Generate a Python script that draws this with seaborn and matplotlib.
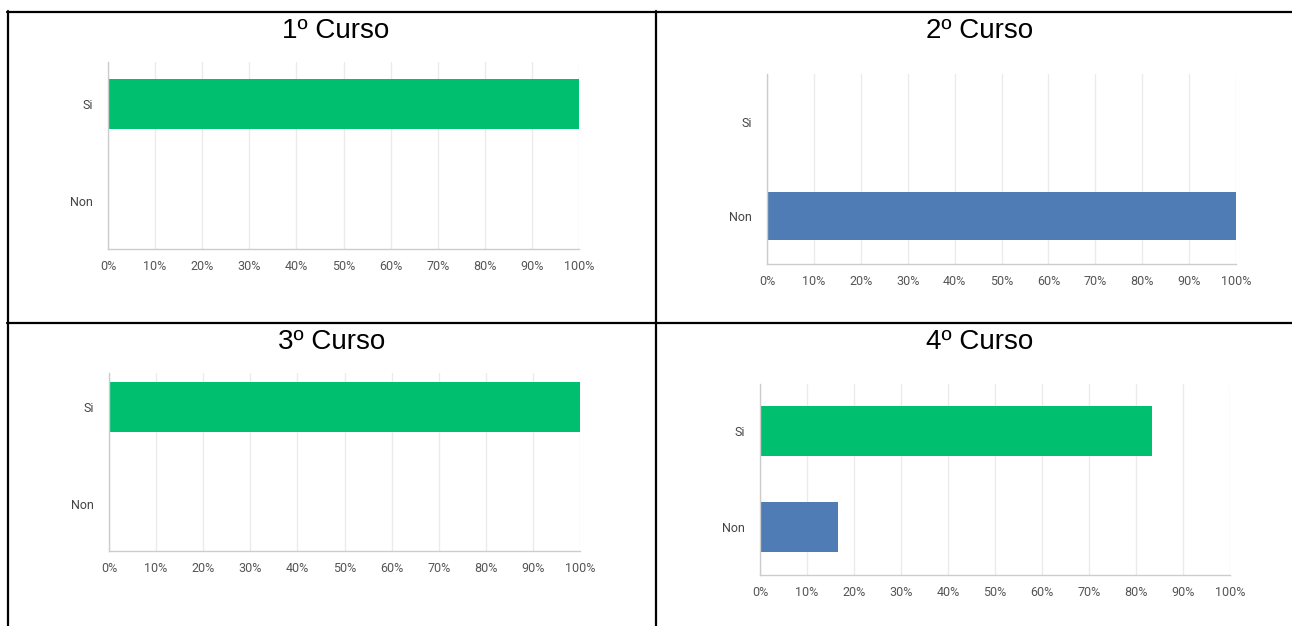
import matplotlib
matplotlib.use("Agg")
import matplotlib.pyplot as plt
from matplotlib.lines import Line2D
import seaborn as sns

sns.set_theme(style="white")
plt.rcParams["font.family"] = ["Roboto", "DejaVu Sans"]

# ---- data ----
categories = ["Si", "Non"]
titles = ["1º Curso", "2º Curso", "3º Curso", "4º Curso"]
curso1 = [100, 0]
curso2 = [0, 100]
curso3 = [100, 0]
curso4 = [83.33, 16.67]
values = [curso1, curso2, curso3, curso4]
palette = {"Si": "#00BF6F", "Non": "#507CB6"}
xticks = list(range(0, 101, 10))

W, H = 1292, 626
fig = plt.figure(figsize=(W / 100, H / 100), dpi=100)

# axes boxes in pixels: left, right, top, bottom ; ylim (bottom, top)
boxes = [(108, 579, 62, 249, (1.495, -0.433)),
         (767, 1236, 74, 264, (1.51, -0.51)),
         (109, 580, 373, 551, (1.485, -0.35)),
         (760, 1230, 384, 575, (1.50, -0.49))]
title_pos = [(336, 31), (980, 31), (332, 342), (980, 342)]

for vals, title, (l, r, t, b, ylim), (tx, ty) in zip(values, titles, boxes, title_pos):
    ax = fig.add_axes([l / W, 1 - b / H, (r - l) / W, (b - t) / H])
    sns.barplot(x=vals, y=categories, hue=categories, palette=palette, orient="h",
                width=0.52, saturation=1, legend=False, ax=ax, linewidth=0)
    ax.set_xlim(0, 100)
    ax.set_ylim(*ylim)
    ax.set_xticks(xticks)
    ax.set_xticklabels([f"{v}%" for v in xticks])
    ax.grid(axis="x", color="#ebebeb", linewidth=1)
    ax.set_axisbelow(True)
    for s in ["top", "right"]:
        ax.spines[s].set_visible(False)
    for s in ["left", "bottom"]:
        ax.spines[s].set_color("#cccccc")
        ax.spines[s].set_linewidth(1)
    ax.tick_params(axis="x", length=0, pad=8, labelsize=9, labelcolor="#555555")
    ax.tick_params(axis="y", length=0, pad=11, labelsize=9, labelcolor="#444444")
    ax.set_xlabel("")
    ax.set_ylabel("")
    fig.text(tx / W, 1 - ty / H, title, ha="center", va="center", fontsize=20,
             family="Liberation Sans", color="black")

# table borders
def hline(y, x0, x1):
    fig.add_artist(Line2D([x0 / W, x1 / W], [1 - y / H, 1 - y / H], color="black", linewidth=1.6))

def vline(x, y0, y1):
    fig.add_artist(Line2D([x / W, x / W], [1 - y0 / H, 1 - y1 / H], color="black", linewidth=1.6))

hline(12, 7, W)
hline(322.5, 7, W)
vline(8, 11, H)
vline(656, 11, H)

fig.savefig("out.png", dpi=100)
